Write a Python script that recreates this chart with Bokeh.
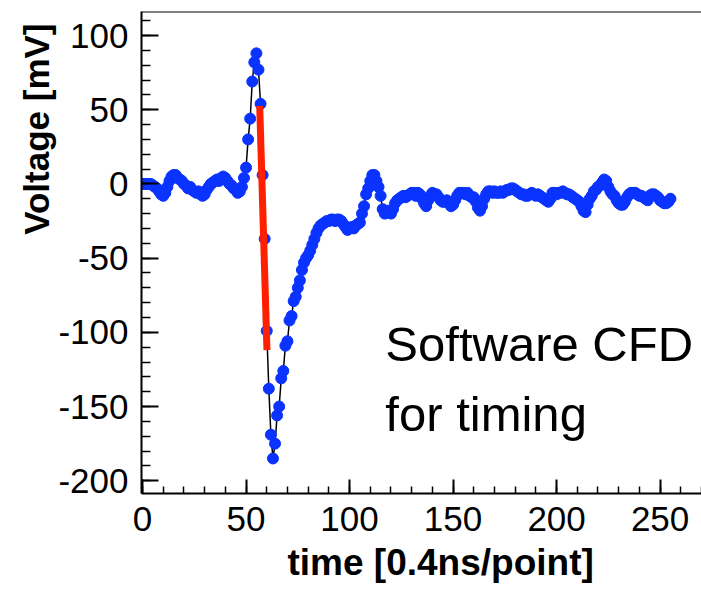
from bokeh.plotting import figure
from bokeh.models import Range1d, SingleIntervalTicker, Label, Span, Title, CustomJSTickFormatter
from bokeh.embed import file_html
from bokeh.resources import INLINE

# sample index (0.4 ns per point)
time_pts = list(range(256))

# waveform amplitude in mV
voltage_mv = [
    0, 0, 0, 0, 0, -1, -2, -3, -5, -7,
    -8, -6, -2, 2, 5, 6, 6, 4, 3, 2,
    0, -1, -3, -2, -4, -5, -6, -5, -7, -8,
    -7, -4, -2, 0, 1, 2, 3, 2, 4, 5,
    4, 2, 0, -1, -3, -4, -6, -5, -2, 4,
    11, 30, 44, 69, 82, 88, 77, 54, 6, -37,
    -99, -138, -169, -185, -175, -156, -150, -131, -126, -109,
    -106, -92, -89, -79, -76, -70, -65, -58, -53, -50,
    -48, -45, -41, -37, -33, -30, -28, -27, -26, -25,
    -25, -24, -24, -25, -24, -24, -25, -27, -29, -31,
    -30, -29, -30, -28, -27, -26, -20, -15, -7, -3,
    2, 6, 6, 2, -2, -8, -17, -20, -19, -18,
    -20, -17, -13, -11, -10, -9, -8, -9, -8, -7,
    -6, -6, -8, -6, -7, -10, -13, -15, -11, -8,
    -6, -7, -7, -9, -11, -12, -12, -11, -13, -15,
    -14, -11, -8, -6, -6, -6, -7, -6, -8, -9,
    -9, -12, -16, -18, -15, -10, -7, -5, -5, -6,
    -5, -6, -6, -5, -6, -5, -4, -4, -3, -3,
    -4, -5, -6, -7, -7, -8, -8, -7, -6, -7,
    -8, -7, -8, -9, -10, -11, -12, -10, -6, -6,
    -7, -6, -6, -5, -6, -7, -7, -8, -9, -10,
    -11, -12, -15, -18, -19, -14, -10, -8, -5, -4,
    -2, -1, 1, 3, 2, -2, -5, -7, -8, -11,
    -13, -14, -14, -12, -9, -7, -6, -6, -6, -7,
    -8, -8, -9, -10, -11, -8, -7, -7, -8, -9,
    -11, -12, -13, -13, -12, -10,
]

# software CFD fit segment (time, mV)
cfd_time = [56.6, 60.1]
cfd_mv = [52.6, -112.0]

x_ticks_interval = 50
y_ticks_interval = 50
x_title = "time [0.4ns/point]"
y_title = "Voltage [mV]"
note_lines = ["Software CFD", "for timing"]

FONT = "Liberation Sans"
BLUE = "#0a33ff"
RED = "#ff2000"

Y_TOP = 116.2
Y_BOTTOM = -208.6

p = figure(width=701, height=589,
           x_range=Range1d(-0.5, 270), y_range=Range1d(Y_BOTTOM, Y_TOP),
           output_backend="svg", toolbar_location=None, title_location=None,
           min_border_left=141, min_border_right=0,
           min_border_top=11, min_border_bottom=95)
p.outline_line_color = None
p.xgrid.visible = False
p.ygrid.visible = False
p.background_fill_color = "white"
p.border_fill_color = "white"

p.line(time_pts, voltage_mv, line_color="black", line_width=1.5)
p.scatter(time_pts, voltage_mv, marker="circle", size=11,
          fill_color=BLUE, line_color=BLUE)
p.line(cfd_time, cfd_mv, line_color=RED, line_width=7)

for ax, interval in ((p.xaxis[0], x_ticks_interval), (p.yaxis[0], y_ticks_interval)):
    ax.ticker = SingleIntervalTicker(interval=interval, num_minor_ticks=5)
    ax.formatter = CustomJSTickFormatter(code="return tick.toFixed(0);")
    ax.axis_line_color = "black"
    ax.axis_line_width = 2
    ax.major_tick_line_color = "black"
    ax.major_tick_line_width = 2
    ax.minor_tick_line_color = "black"
    ax.minor_tick_line_width = 1.5
    ax.major_tick_out = 0
    ax.minor_tick_out = 0
    ax.major_label_text_font = FONT
    ax.major_label_text_font_size = "35px"
    ax.major_label_text_color = "black"
    ax.major_label_standoff = 13

p.yaxis[0].major_tick_in = 17
p.yaxis[0].minor_tick_in = 9
p.xaxis[0].major_tick_in = 14
p.xaxis[0].minor_tick_in = 7

# top frame border
p.add_layout(Span(location=Y_TOP, dimension="width", line_color="black", line_width=2))

p.add_layout(Title(text=x_title, text_font=FONT, text_font_size="37px",
                   text_font_style="bold", text_color="black",
                   align="left", offset=146, standoff=13), "below")
p.add_layout(Title(text=y_title, text_font=FONT, text_font_size="35px",
                   text_font_style="bold", text_color="black",
                   align="right", offset=12, standoff=0), "left")

p.add_layout(Label(x=117.3, y=-107.7, text=note_lines[0], text_font=FONT,
                   text_font_size="49px", text_align="left",
                   text_baseline="alphabetic", text_color="black"))
p.add_layout(Label(x=117.3, y=-154.8, text=note_lines[1], text_font=FONT,
                   text_font_size="49px", text_align="left",
                   text_baseline="alphabetic", text_color="black"))

open("out.html", "w").write(file_html(p, INLINE))
